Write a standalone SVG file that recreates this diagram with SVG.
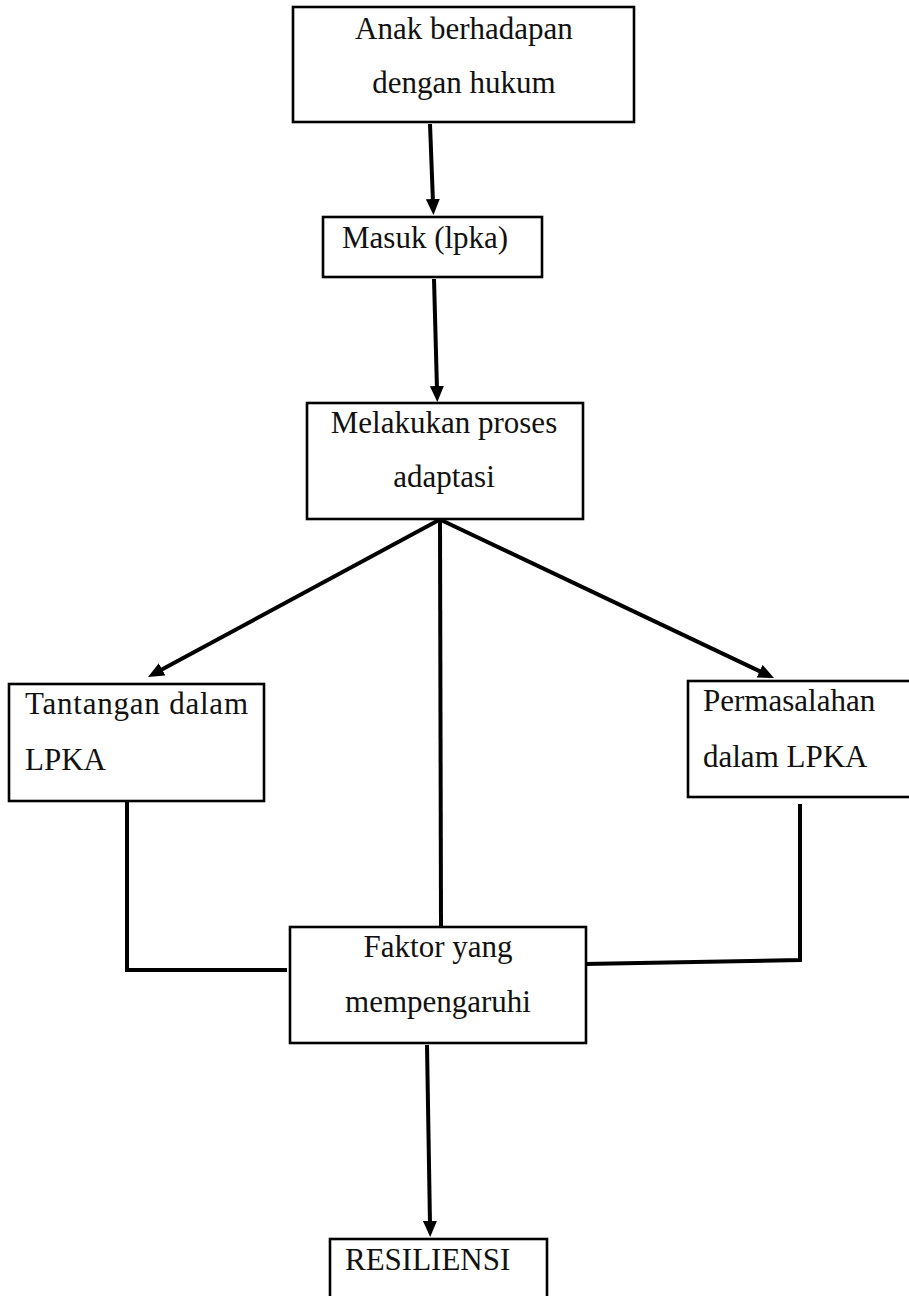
<svg xmlns="http://www.w3.org/2000/svg" width="909" height="1296" viewBox="0 0 909 1296">
<style>
.box{fill:#fff;stroke:#000;stroke-width:2.6}
.t{font-family:"Liberation Serif","Times New Roman",serif;font-size:31px;fill:#111}
.c{text-anchor:middle}
.ln{fill:none;stroke:#000;stroke-width:4}
</style>
<defs>
<marker id="ah" markerUnits="userSpaceOnUse" markerWidth="18" markerHeight="16" refX="4" refY="7" orient="auto">
<path d="M0,0 L16,7 L0,14 z" fill="#000"/>
</marker>
</defs>
<rect width="909" height="1296" fill="#fff"/>
<g id="connectors">
<line class="ln" x1="430" y1="124" x2="433" y2="203" marker-end="url(#ah)"/>
<line class="ln" x1="434" y1="279" x2="437" y2="390" marker-end="url(#ah)"/>
<line class="ln" x1="439" y1="520" x2="158.6" y2="671.3" marker-end="url(#ah)"/>
<line class="ln" x1="441" y1="520" x2="763.2" y2="672.9" marker-end="url(#ah)"/>
<line class="ln" x1="440" y1="520" x2="441" y2="927"/>
<polyline class="ln" points="127,801 127,970 287,970"/>
<polyline class="ln" points="800,804 800,960 584,964"/>
<line class="ln" x1="427" y1="1045" x2="430" y2="1225" marker-end="url(#ah)"/>
</g>
<g id="n1">
<rect class="box" x="293" y="7" width="341" height="115"/>
<text class="t c" x="464" y="39">Anak berhadapan</text>
<text class="t c" x="464" y="93">dengan hukum</text>
</g>
<g id="n2">
<rect class="box" x="323" y="217" width="219" height="60"/>
<text class="t" x="342" y="248">Masuk (lpka)</text>
</g>
<g id="n3">
<rect class="box" x="307" y="403" width="276" height="116"/>
<text class="t c" x="444" y="433">Melakukan proses</text>
<text class="t c" x="444" y="487">adaptasi</text>
</g>
<g id="n4">
<rect class="box" x="9" y="684" width="255" height="117"/>
<text class="t" x="25" y="714" textLength="223">Tantangan dalam</text>
<text class="t" x="25" y="770">LPKA</text>
</g>
<g id="n5">
<rect class="box" x="688" y="681" width="230" height="116"/>
<text class="t" x="703" y="711">Permasalahan</text>
<text class="t" x="703" y="767">dalam LPKA</text>
</g>
<g id="n6">
<rect class="box" x="290" y="927" width="296" height="116"/>
<text class="t c" x="438" y="957">Faktor yang</text>
<text class="t c" x="438" y="1012">mempengaruhi</text>
</g>
<g id="n7">
<rect class="box" x="330" y="1239" width="217" height="70"/>
<text class="t" x="345" y="1270">RESILIENSI</text>
</g>
</svg>
